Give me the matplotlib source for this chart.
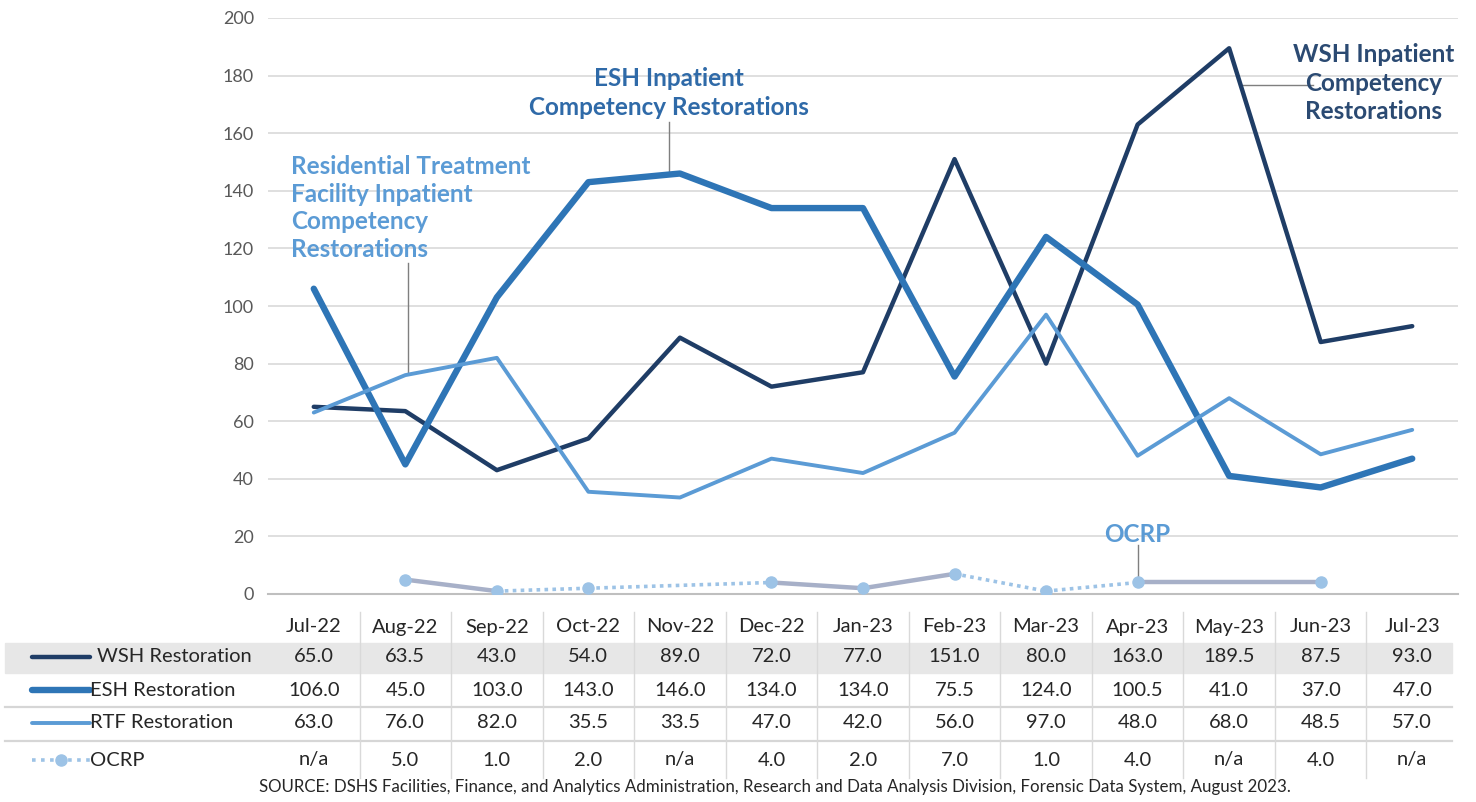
import matplotlib
matplotlib.use("Agg")
import matplotlib.pyplot as plt
from matplotlib.lines import Line2D
from matplotlib.patches import Rectangle
from matplotlib.transforms import blended_transform_factory
plt.rcParams['font.family'] = ['Lato', 'DejaVu Sans']

months = ['Jul-22', 'Aug-22', 'Sep-22', 'Oct-22', 'Nov-22', 'Dec-22', 'Jan-23',
          'Feb-23', 'Mar-23', 'Apr-23', 'May-23', 'Jun-23', 'Jul-23']
wsh = [65.0, 63.5, 43.0, 54.0, 89.0, 72.0, 77.0, 151.0, 80.0, 163.0, 189.5, 87.5, 93.0]
esh = [106.0, 45.0, 103.0, 143.0, 146.0, 134.0, 134.0, 75.5, 124.0, 100.5, 41.0, 37.0, 47.0]
rtf = [63.0, 76.0, 82.0, 35.5, 33.5, 47.0, 42.0, 56.0, 97.0, 48.0, 68.0, 48.5, 57.0]
ocrp = [None, 5.0, 1.0, 2.0, None, 4.0, 2.0, 7.0, 1.0, 4.0, None, 4.0, None]
row_names = ['WSH Restoration', 'ESH Restoration', 'RTF Restoration', 'OCRP']
source = ('SOURCE: DSHS Facilities, Finance, and Analytics Administration, Research and '
          'Data Analysis Division, Forensic Data System, August 2023.')

# OCRP segments Excel drew solid grey (rest dotted)
ocrp_solid = [(1, 2), (5, 6), (6, 7), (9, 11)]

c_wsh = '#1f3d66'
c_esh = '#2e75b6'
c_rtf = '#5b9bd5'
c_ocrp_dot = '#9dc3e6'
c_ocrp_solid = '#a7b0c8'

W, H = 1476, 802
fig = plt.figure(figsize=(W / 100, H / 100), dpi=100)
ax = fig.add_axes([268 / W, 1 - 594 / H, (1458 - 268) / W, (594 - 18) / H])

x = list(range(len(months)))
ax.plot(x, wsh, color=c_wsh, lw=3.2, solid_capstyle='round', zorder=3)
ax.plot(x, esh, color=c_esh, lw=4.6, solid_capstyle='round', zorder=4)
ax.plot(x, rtf, color=c_rtf, lw=2.8, solid_capstyle='round', zorder=5)

valid = [i for i, v in enumerate(ocrp) if v is not None]
for a, b in zip(valid[:-1], valid[1:]):
    if (a, b) in ocrp_solid:
        ax.plot([a, b], [ocrp[a], ocrp[b]], color=c_ocrp_solid, lw=3.2,
                solid_capstyle='round', zorder=6)
    else:
        ax.plot([a, b], [ocrp[a], ocrp[b]], color=c_ocrp_dot, lw=2.6,
                ls=(0, (1, 1.2)), zorder=6)
ax.plot(valid, [ocrp[i] for i in valid], ls='none', marker='o', ms=8,
        color=c_ocrp_dot, zorder=7)

ax.set_xlim(-0.5, len(months) - 0.5)
ax.set_ylim(0, 200)
ax.set_yticks(range(0, 201, 20))
ax.set_xticks([])
ax.tick_params(axis='y', length=0, labelsize=13, labelcolor='#595959', pad=10)
ax.grid(axis='y', color='#d9d9d9', lw=1.2)
ax.set_axisbelow(True)
for s in ['top', 'right', 'left']:
    ax.spines[s].set_visible(False)
ax.spines['bottom'].set_color('#bfbfbf')
ax.spines['bottom'].set_linewidth(1.5)

# annotations
ax.text(3.88, 165, 'ESH Inpatient\nCompetency Restorations', ha='center', va='bottom',
        fontsize=17.5, fontweight='bold', color='#2f6aa8', linespacing=1.3)
ax.plot([3.88, 3.88], [164, 145.6], color='#7f7f7f', lw=1)

ax.text(11.58, 177.4, 'WSH Inpatient\nCompetency\nRestorations', ha='center', va='center',
        fontsize=17.5, fontweight='bold', color='#2b4a72', linespacing=1.3)
ax.plot([10.13, 10.92], [176.7, 176.7], color='#7f7f7f', lw=1)

ax.text(-0.25, 134, 'Residential Treatment\nFacility Inpatient\nCompetency\nRestorations',
        ha='left', va='center', fontsize=17.5, fontweight='bold', color=c_rtf,
        linespacing=1.25)
ax.plot([1.03, 1.03], [115, 76.3], color='#7f7f7f', lw=1)

ax.text(9.0, 16.5, 'OCRP', ha='center', va='bottom', fontsize=17.5, fontweight='bold',
        color=c_rtf)
ax.plot([9.0, 9.0], [17, 4], color='#7f7f7f', lw=1)

# data table
tr = blended_transform_factory(ax.transData, fig.transFigure)
def fy(py):
    return 1 - py / H

fig.patches.append(Rectangle((5 / W, fy(673)), (1452 - 5) / W, 30 / H,
                             transform=fig.transFigure, color='#e7e7e7', zorder=0))
for py in [707, 741]:
    fig.add_artist(Line2D([5 / W, 1452 / W], [fy(py), fy(py)], color='#d6d6d6', lw=1.6))
for i in range(len(months) - 1):
    fig.add_artist(Line2D([i + 0.5, i + 0.5], [fy(612), fy(778)], transform=tr,
                          color='#d9d9d9', lw=1))

row_y = [657, 690, 723, 760]
tsize = 14.5
for i, m in enumerate(months):
    fig.text(i, fy(627), m, transform=tr, ha='center', va='center', fontsize=tsize,
             color='#262626')

series = [wsh, esh, rtf, ocrp]
for r, (vals, py) in enumerate(zip(series, row_y)):
    for i, v in enumerate(vals):
        s = 'n/a' if v is None else f'{v:.1f}'
        fig.text(i, fy(py), s, transform=tr, ha='center', va='center', fontsize=tsize,
                 color='#262626')

# legend keys in the table
lx0, lx1 = 32 / W, 90 / W
fig.add_artist(Line2D([lx0, lx1], [fy(657), fy(657)], color=c_wsh, lw=3.2,
                      solid_capstyle='round'))
fig.add_artist(Line2D([lx0, lx1], [fy(690), fy(690)], color=c_esh, lw=4.6,
                      solid_capstyle='round'))
fig.add_artist(Line2D([lx0, lx1], [fy(723), fy(723)], color=c_rtf, lw=2.8,
                      solid_capstyle='round'))
fig.add_artist(Line2D([lx0, lx1], [fy(760), fy(760)], color=c_ocrp_dot, lw=2.6,
                      ls=(0, (1, 1.5))))
fig.add_artist(Line2D([61 / W], [fy(760)], color=c_ocrp_dot, marker='o', ms=8, ls='none'))
label_x = [97, 90, 90, 90]
for name, py, lx in zip(row_names, row_y, label_x):
    fig.text(lx / W, fy(py), name, ha='left', va='center', fontsize=tsize, color='#262626')

fig.text(775 / W, fy(787), source, ha='center', va='center', fontsize=12.2, color='#262626')

fig.savefig('out.png', dpi=100)
